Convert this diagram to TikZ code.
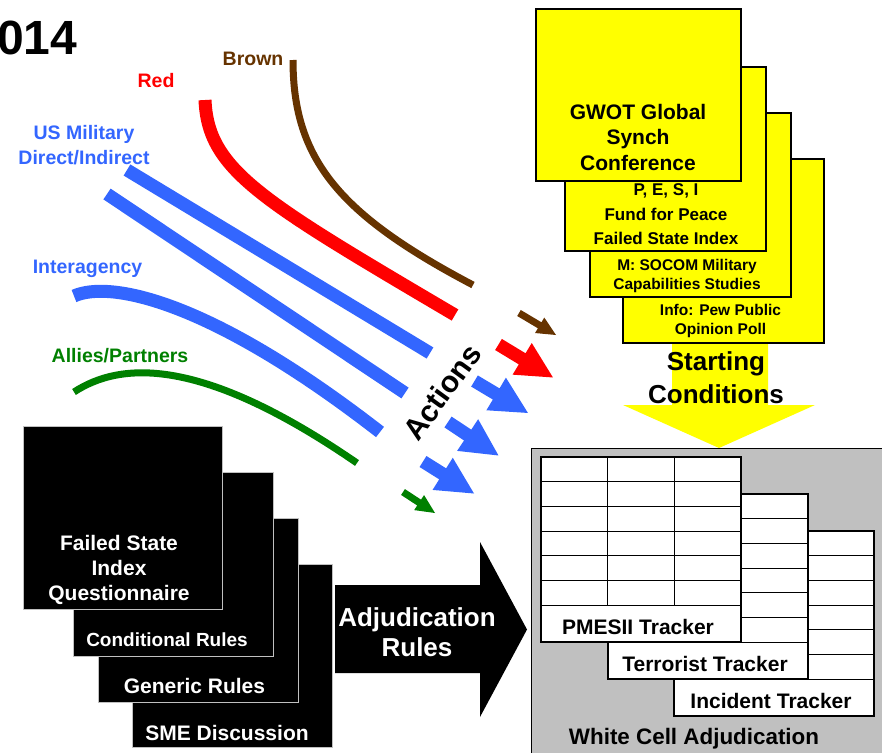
\documentclass[tikz,border=0pt]{standalone}
\usepackage{fontspec}
\setmainfont{Liberation Sans}
\usetikzlibrary{calc}
\definecolor{myblue}{HTML}{3366FF}
\definecolor{mybrown}{HTML}{663300}
\definecolor{mygreen}{HTML}{008000}
\definecolor{myred}{HTML}{FF0000}
\definecolor{myyellow}{HTML}{FFFF00}
\definecolor{mygray}{HTML}{C0C0C0}
\newcommand\fsz[2]{\fontsize{#1}{#2}\selectfont\bfseries}
% fat arrow: #1 tail, #2 tip, #3 half shaft, #4 half head, #5 head length, #6 colour
\newcommand\fatarrow[6]{%
  \path let \p1=($(#2)-(#1)$), \n1={atan2(\y1,\x1)}, \n2={veclen(\x1,\y1)} in
    \pgfextra{\xdef\faang{\n1}\xdef\falen{\n2}};
  \fill[#6, shift={(#1)}, rotate=\faang]
    (0pt,-#3pt) -- ({\falen-#5pt},-#3pt) -- ({\falen-#5pt},-#4pt) -- (\falen,0pt)
    -- ({\falen-#5pt},#4pt) -- ({\falen-#5pt},#3pt) -- (0pt,#3pt) -- cycle;}
% tracker table: #1 name, #2 x, #3 y, #4 label
\newcommand\tracker[4]{%
  \begin{scope}[shift={(#2,#3)}]
    \draw[trk] (0,0) rectangle (200,185);
    \foreach \r in {1,...,6} {\draw[trk] (0,\r*24.7) -- (200,\r*24.7);}
    \foreach \c in {66.7,133.3} {\draw[trk] (\c,0) -- (\c,148.2);}
    \node[font=\fsz{21}{21}, inner sep=0pt] (#1) at (97,170) {#4};
  \end{scope}}
\tikzset{
  trk/.style={draw=black, line width=1.2pt, fill=white},
  ybox/.style={draw=black, line width=1.2pt, fill=myyellow, inner sep=0pt},
  kbox/.style={draw=mygray, line width=1pt, fill=black, inner sep=0pt},
  txt/.style={inner sep=0pt, align=center},
}
\begin{document}
\begin{tikzpicture}[x=1pt,y=-1pt]
\useasboundingbox (0,0) rectangle (882,752);

% title
\node[txt, anchor=west, font=\fsz{48}{50}] (yr) at (-3,38) {014};

% labels
\node[txt, text=mybrown, font=\fsz{19.5}{25}] (lbrown) at (253,59) {Brown};
\node[txt, text=myred, font=\fsz{19.5}{25}] (lred) at (156,81) {Red};
\node[txt, text=myblue, font=\fsz{19.5}{25}] (lus) at (84,145.5) {US Military\\Direct/Indirect};
\node[txt, text=myblue, font=\fsz{19.5}{25}] (lia) at (87.5,269) {Interagency};
\node[txt, text=mygreen, font=\fsz{19.5}{25}] (lal) at (120,356) {Allies/Partners};

% curves
\draw[mybrown, line width=7pt] (293,60) .. controls (293,160) and (340,215) .. (473,285);
\draw[myred, line width=13pt] (205,100) .. controls (208,170) and (260,200) .. (455,315);
\draw[myblue, line width=13pt] (127,170) -- (430,353);
\draw[myblue, line width=13pt] (107,194) -- (405,393);
\draw[myblue, line width=13pt] (74,296) .. controls (110,280) and (210,300) .. (380,432);
\draw[mygreen, line width=7pt] (74,392) .. controls (120,362) and (200,355) .. (357,463);

% short action arrows
\coordinate (abt) at (519,313);     \coordinate (abh) at (556,335);
\coordinate (art) at (498.5,344.5); \coordinate (arh) at (553,377.5);
\coordinate (a1t) at (474.5,381);   \coordinate (a1h) at (528,413);
\coordinate (a2t) at (448,422);     \coordinate (a2h) at (498.5,455.5);
\coordinate (a3t) at (423,461.5);   \coordinate (a3h) at (474,493.5);
\coordinate (agt) at (403,492);     \coordinate (agh) at (435,513);
\fatarrow{abt}{abh}{3.5}{9}{19}{mybrown}
\fatarrow{art}{arh}{6.5}{18.5}{36}{myred}
\fatarrow{a1t}{a1h}{6.5}{19}{37}{myblue}
\fatarrow{a2t}{a2h}{6.5}{19}{37}{myblue}
\fatarrow{a3t}{a3h}{6.5}{19}{37}{myblue}
\fatarrow{agt}{agh}{3.5}{9}{19}{mygreen}

\node[txt, rotate=54, font=\fsz{30}{30}] (act) at (442,392) {Actions};

% yellow arrow (starting conditions)
\fill[myyellow] (672,340) -- (768,340) -- (768,405) -- (815,405) -- (719,448)
  -- (623,405) -- (672,405) -- cycle;

% yellow stack
\node[ybox, minimum width=201pt, minimum height=184pt] (y4) at (723.5,251) {};
\node[ybox, minimum width=201pt, minimum height=184pt] (y3) at (690.5,205) {};
\node[ybox, minimum width=201pt, minimum height=184pt] (y2) at (665.5,159) {};
\node[ybox, minimum width=205pt, minimum height=172pt] (y1) at (638.5,95) {};
\node[txt, font=\fsz{21}{25.5}] (ty1) at (638,137) {GWOT Global\\Synch\\Conference};
\node[txt, font=\fsz{17}{24.5}] (ty2) at (666,214.5) {P, E, S, I\\Fund for Peace\\Failed State Index};
\node[txt, font=\fsz{15.5}{19}] (ty3) at (687,275.5) {M: SOCOM Military\\Capabilities Studies};
\node[txt, font=\fsz{15.5}{19}] (ty4) at (720.5,321) {Info: Pew Public\\Opinion Poll};
\node[txt, font=\fsz{26}{33}] (tsc) at (716,377.5) {Starting\\Conditions};

% white cell panel
\node[draw=black, line width=1.2pt, fill=mygray, minimum width=364pt, minimum height=317pt,
  inner sep=0pt, anchor=north west] (panel) at (531,448) {};
\tracker{tr3}{674}{531}{Incident Tracker}
\tracker{tr2}{608}{494}{Terrorist Tracker}
\tracker{tr1}{541}{457}{PMESII Tracker}
\node[txt, font=\fsz{22.4}{24}] (wca) at (694,739) {White Cell Adjudication};

% black stack
\node[kbox, minimum width=200pt, minimum height=183pt, anchor=north west] (k4) at (132,564) {};
\node[kbox, minimum width=200pt, minimum height=184pt, anchor=north west] (k3) at (98,518) {};
\node[kbox, minimum width=200pt, minimum height=184pt, anchor=north west] (k2) at (73,472) {};
\node[kbox, minimum width=199pt, minimum height=183pt, anchor=north west] (k1) at (23,426) {};
\node[txt, text=white, font=\fsz{21}{25}] (tk1) at (119,570) {Failed State\\Index\\Questionnaire};
\node[txt, text=white, font=\fsz{19}{21}] (tk2) at (167,640) {Conditional Rules};
\node[txt, text=white, font=\fsz{21}{21}] (tk3) at (194.5,686) {Generic Rules};
\node[txt, text=white, font=\fsz{21}{21}] (tk4) at (227,733) {SME Discussion};

% big black arrow
\fill[black] (335,585) -- (480,585) -- (480,542) -- (527,629.5) -- (480,717) -- (480,673)
  -- (335,673) -- cycle;
\node[txt, text=white, font=\fsz{26}{30}] (tadj) at (417,632) {Adjudication\\Rules};
\end{tikzpicture}
\end{document}
